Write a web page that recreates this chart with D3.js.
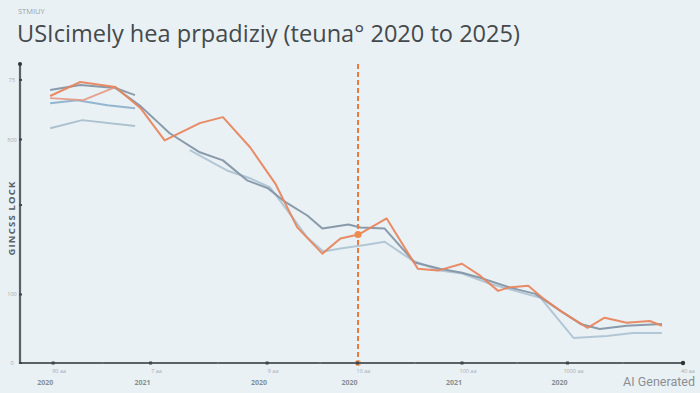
<!DOCTYPE html>
<html>
<head>
<meta charset="utf-8">
<script src="https://cdn.jsdelivr.net/npm/d3@7"></script>
<style>
  html, body { margin: 0; padding: 0; background: #e9f1f4; }
  svg { display: block; font-family: 'Open Sans', 'Noto Sans', Arial, sans-serif; }
</style>
</head>
<body>
<div id="chart"></div>
<script>
// months since Jan 2020 / index value
var orangeSeries = [
  [3.0, 89.6], [6.0, 94.3], [9.5, 92.6], [12.0, 85.5], [14.4, 74.7], [17.9, 80.5],
  [20.2, 82.5], [22.9, 72.4], [25.4, 60.3], [27.6, 45.5], [30.1, 36.7], [31.9, 41.8],
  [33.7, 43.1], [36.5, 48.5], [39.6, 31.6], [41.6, 31.0], [44.0, 33.3], [45.8, 29.3],
  [47.6, 24.2], [48.6, 25.3], [50.6, 25.9], [52.0, 21.9], [53.8, 17.5], [56.5, 11.8],
  [58.2, 15.2], [60.4, 13.5], [62.7, 14.1], [63.9, 12.5]
];
var salmonSeries = [[3.0, 88.9], [6.3, 88.2], [9.5, 92.6]];
var slateSeries = [
  [3.0, 91.6], [6.0, 93.3], [9.5, 92.3], [12.0, 86.2], [14.9, 77.1], [17.9, 70.7],
  [20.2, 68.0], [22.6, 61.3], [24.7, 58.6], [26.2, 54.5], [28.6, 49.5], [30.1, 45.1],
  [32.7, 46.5], [33.9, 45.5], [36.3, 45.1], [39.3, 33.7], [41.8, 31.6], [44.0, 30.3],
  [45.8, 28.6], [48.8, 25.3], [51.3, 23.2], [53.8, 17.5], [55.8, 13.1], [57.7, 11.4],
  [60.4, 12.5], [63.9, 13.1]
];
var slateStub = [[9.5, 92.3], [11.45, 89.9]];
var blueSeries = [[3.0, 87.2], [5.7, 88.2], [8.7, 86.5], [11.45, 85.5]];
var paleSeries = [[3.0, 78.8], [6.2, 81.5], [11.45, 79.5]];
var mistSeries = [
  [16.9, 71.4], [20.6, 64.6], [22.9, 62.0], [24.9, 58.9], [27.2, 48.5], [28.6, 42.1],
  [30.2, 37.4], [31.9, 38.4], [34.5, 39.7], [36.3, 40.7], [39.1, 34.3], [41.8, 31.0],
  [44.0, 30.0], [46.8, 26.6], [49.3, 24.2], [51.8, 21.9], [55.1, 8.4], [58.4, 9.1],
  [61.0, 10.1], [63.9, 10.1]
];
var markerMonth = 33.65;
var markerValue = 43.1;

var xMajorTicks = [3.3, 13.0, 24.6, 33.6, 44.0, 54.5, 65.9];
var xMinorTicks = [8.2, 19.7, 29.9, 39.3, 49.5, 60.0];
var xTopLabels = ["90 aa", "7 aa", "9 aa", "10 aa", "100 aa", "1000 aa", "40 aa"];
var xYearLabels = ["2020", "2021", "2020", "2020", "2021", "2020"];
var yTicks = [95, 75, 53, 23, 0];
var yTickLabels = ["75", "500", "", "100", "0"];

var width = 700, height = 393;

var svg = d3.select("#chart").append("svg")
    .attr("width", width)
    .attr("height", height);

var x = d3.scaleLinear().domain([0, 66]).range([20, 683]);
var y = d3.scaleLinear().domain([0, 100]).range([363, 65]);

svg.append("text")
    .attr("x", 18).attr("y", 14)
    .attr("font-size", 7.5)
    .attr("fill", "#9aa2a6")
    .text("STMIUY");

svg.append("text")
    .attr("x", 17).attr("y", 42)
    .attr("font-size", 23)
    .attr("font-weight", 500)
    .attr("fill", "#45494c")
    .attr("textLength", 503)
    .attr("lengthAdjust", "spacingAndGlyphs")
    .text("USIcimely hea prpadiziy (teuna\u00b0 2020 to 2025)");

// y axis title
svg.append("text")
    .attr("transform", "translate(15,218) rotate(-90)")
    .attr("text-anchor", "middle")
    .attr("font-size", 9.5)
    .attr("font-weight", "bold")
    .attr("letter-spacing", 1.2)
    .attr("fill", "#5a6064")
    .text("GINCSS LOCK");

var line = d3.line()
    .x(function (d) { return x(d[0]); })
    .y(function (d) { return y(d[1]); });

var series = [
  { data: paleSeries, color: "#a9bfce", width: 2 },
  { data: blueSeries, color: "#8fb1cc", width: 2 },
  { data: mistSeries, color: "#afc4d4", width: 2 },
  { data: slateStub, color: "#8798a8", width: 2 },
  { data: slateSeries, color: "#8496a7", width: 2 },
  { data: salmonSeries, color: "#e79b86", width: 1.8 },
  { data: orangeSeries, color: "#e8855e", width: 2 }
];

svg.append("g").selectAll("path")
    .data(series)
    .enter().append("path")
    .attr("d", function (d) { return line(d.data); })
    .attr("fill", "none")
    .attr("stroke", function (d) { return d.color; })
    .attr("stroke-width", function (d) { return d.width; })
    .attr("stroke-linejoin", "round")
    .attr("stroke-opacity", 0.95);

// marker line
svg.append("line")
    .attr("x1", x(markerMonth)).attr("x2", x(markerMonth))
    .attr("y1", 64).attr("y2", y(0))
    .attr("stroke", "#ea7a44")
    .attr("stroke-width", 2)
    .attr("stroke-dasharray", "5,3");

svg.append("circle")
    .attr("cx", x(markerMonth)).attr("cy", y(markerValue))
    .attr("r", 3.5)
    .attr("fill", "#f08a4c");

svg.append("circle")
    .attr("cx", x(markerMonth)).attr("cy", y(0))
    .attr("r", 3)
    .attr("fill", "#f0a060");

// axes
var axisColor = "#5b6166";
svg.append("line")
    .attr("x1", x(0)).attr("x2", x(0))
    .attr("y1", 63).attr("y2", y(0) + 1)
    .attr("stroke", axisColor).attr("stroke-width", 2.2);
svg.append("circle").attr("cx", x(0)).attr("cy", 64).attr("r", 2).attr("fill", "#333");

svg.append("line")
    .attr("x1", x(0) - 1).attr("x2", x(66))
    .attr("y1", y(0)).attr("y2", y(0))
    .attr("stroke", axisColor).attr("stroke-width", 2.2);
svg.append("circle").attr("cx", x(66)).attr("cy", y(0)).attr("r", 2.2).attr("fill", "#333");

svg.append("g").selectAll("rect")
    .data(xMajorTicks.slice(0, -1))
    .enter().append("rect")
    .attr("x", function (d) { return x(d) - 1.5; })
    .attr("y", y(0) - 1.5)
    .attr("width", 3).attr("height", 3)
    .attr("fill", "#444");

svg.append("g").selectAll("rect")
    .data(xMinorTicks)
    .enter().append("rect")
    .attr("x", function (d) { return x(d) - 1; })
    .attr("y", y(0) - 1)
    .attr("width", 2).attr("height", 2)
    .attr("fill", "#6a7074");

svg.append("g").selectAll("text")
    .data(xTopLabels)
    .enter().append("text")
    .attr("x", function (d, i) { return x(xMajorTicks[i]) + 6; })
    .attr("y", 373)
    .attr("text-anchor", "middle")
    .attr("font-size", 5.5)
    .attr("fill", "#a3abb0")
    .text(function (d) { return d; });

svg.append("g").selectAll("text")
    .data(xYearLabels)
    .enter().append("text")
    .attr("x", function (d, i) { return x(xMajorTicks[i]) - 8; })
    .attr("y", 385)
    .attr("text-anchor", "middle")
    .attr("font-size", 7)
    .attr("font-weight", "bold")
    .attr("fill", "#868e93")
    .text(function (d) { return d; });

svg.append("g").selectAll("rect")
    .data(yTicks)
    .enter().append("rect")
    .attr("x", x(0) - 1)
    .attr("y", function (d) { return y(d) - 1; })
    .attr("width", 3).attr("height", 2)
    .attr("fill", "#444");

svg.append("g").selectAll("text")
    .data(yTickLabels)
    .enter().append("text")
    .attr("x", 12)
    .attr("y", function (d, i) { return y(yTicks[i]) + 2; })
    .attr("text-anchor", "middle")
    .attr("font-size", 5.5)
    .attr("fill", "#a3abb0")
    .text(function (d) { return d; });

svg.append("text")
    .attr("x", 695).attr("y", 386)
    .attr("text-anchor", "end")
    .attr("font-family", "Roboto, sans-serif")
    .attr("font-size", 12.5)
    .attr("fill", "#8a8f93")
    .text("AI Generated");
</script>
</body>
</html>
